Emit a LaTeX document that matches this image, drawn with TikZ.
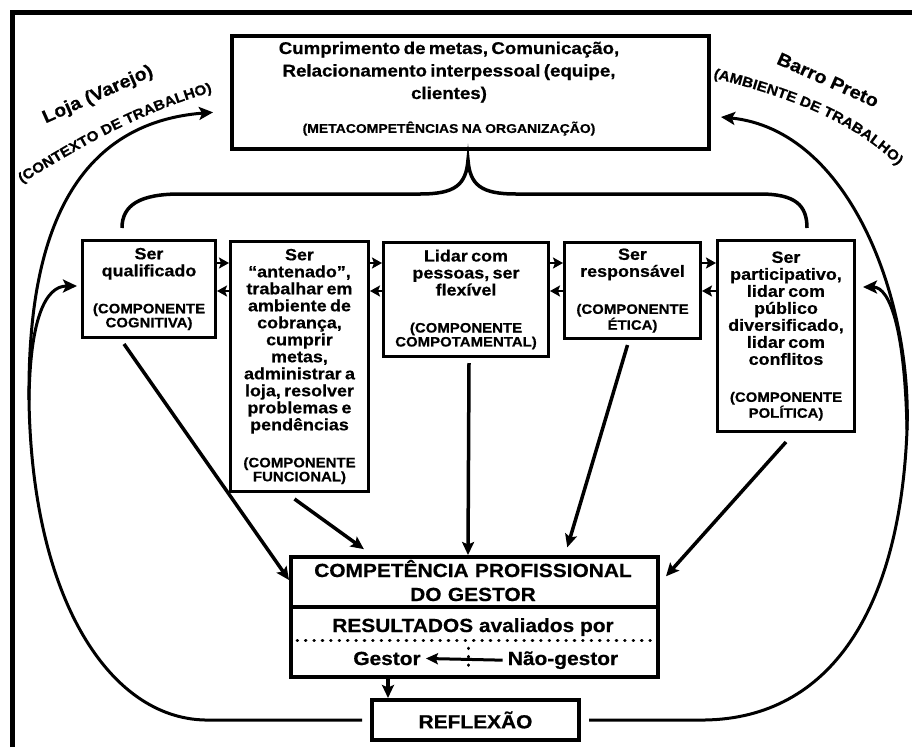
\documentclass[tikz,border=0pt]{standalone}
\usepackage{fontspec}
\setmainfont{Liberation Sans}[FakeStretch=1.1, BoldFeatures={FakeBold=0.6}]
\usetikzlibrary{arrows.meta,decorations.text}

\newcommand{\mainsz}{\fontsize{16.3}{17}\selectfont}
\newcommand{\compsz}{\fontsize{13.6}{14}\selectfont}
\newcommand{\boxtext}[2]{{\mainsz #1\par}\vspace{23pt}{\compsz #2\par}}

\begin{document}
\begin{tikzpicture}[x=1pt,y=-1pt,
  compbox/.style={draw, line width=3pt, align=center, anchor=north west, inner sep=3pt, font=\bfseries},
  heavybox/.style={draw, line width=4pt, anchor=north west, inner sep=0pt},
  lbl/.style={inner sep=0pt},
  looparr/.style={line width=3pt, -{Stealth[length=14pt,width=13pt,inset=3pt]}},
  downarr/.style={line width=3.5pt, -{Stealth[length=13pt,width=12pt,inset=2.5pt]}},
  stubarr/.style={line width=2.5pt, -{Stealth[length=10pt,width=11pt,inset=2pt]}},
  dots/.style={line width=3pt, line cap=round, dash pattern=on 0.6pt off 7.8pt}]

\fill[white] (0,0) rectangle (912,747);
\useasboundingbox (0,0) rectangle (912,747);

% frame
\draw[line width=5pt] (12.5,747) -- (12.5,12) -- (912,12);

% metacompetencias
\node[heavybox, minimum width=477pt, minimum height=113pt] (meta) at (230,34) {};
\node[lbl, align=center, anchor=base, text width=460pt, font=\bfseries] (metatxt) at (449,54)
  {{\fontsize{17}{22.5}\selectfont Cumprimento de metas, Comunicação,\\Relacionamento interpessoal (equipe,\\clientes)\par}\vspace{18pt}{\fontsize{12.7}{14}\selectfont (METACOMPETÊNCIAS NA ORGANIZAÇÃO)\par}};

% chave
\draw[line width=3.5pt] (122,228) .. controls (122,205) and (140,194) .. (180,194) -- (420,194)
  .. controls (455,194) and (466,185) .. (468,160) .. controls (470,185) and (481,194) .. (516,194)
  -- (760,194) .. controls (795,194) and (807,205) .. (807,228);

% componentes
\node[compbox, minimum width=133pt, minimum height=97pt, text width=127pt] (cog) at (81,239)
  {\boxtext{Ser\\qualificado}{(COMPONENTE\\COGNITIVA)}};
\node[compbox, minimum width=138pt, minimum height=250pt, text width=132pt] (fun) at (229,240)
  {\boxtext{Ser\\“antenado”,\\trabalhar em\\ambiente de\\cobrança,\\cumprir\\metas,\\administrar a\\loja, resolver\\problemas e\\pendências}{(COMPONENTE\\FUNCIONAL)}};
\node[compbox, minimum width=165pt, minimum height=114pt, text width=159pt] (com) at (382,241)
  {\boxtext{Lidar com\\pessoas, ser\\flexível}{(COMPONENTE\\COMPOTAMENTAL)}};
\node[compbox, minimum width=136pt, minimum height=96pt, text width=130pt] (eti) at (563,241)
  {\boxtext{Ser\\responsável}{(COMPONENTE\\ÉTICA)}};
\node[compbox, minimum width=137pt, minimum height=191pt, text width=131pt] (pol) at (716,239)
  {\boxtext{Ser\\participativo,\\lidar com\\público\\diversificado,\\lidar com\\conflitos}{(COMPONENTE\\POLÍTICA)}};

\draw[stubarr] (cog.east |- 0,263) -- (fun.west |- 0,263);
\draw[stubarr] (fun.west |- 0,291) -- (cog.east |- 0,291);
\draw[stubarr] (fun.east |- 0,263) -- (com.west |- 0,263);
\draw[stubarr] (com.west |- 0,291) -- (fun.east |- 0,291);
\draw[stubarr] (com.east |- 0,263) -- (eti.west |- 0,263);
\draw[stubarr] (eti.west |- 0,291) -- (com.east |- 0,291);
\draw[stubarr] (eti.east |- 0,263) -- (pol.west |- 0,263);
\draw[stubarr] (pol.west |- 0,291) -- (eti.east |- 0,291);

% competencia profissional
\node[heavybox, minimum width=367pt, minimum height=120pt] (comp) at (289,555) {};
\node[lbl, align=center, anchor=base, text width=360pt, font=\bfseries\fontsize{19}{24}\selectfont] (comptit) at (473,577)
  {COMPETÊNCIA PROFISSIONAL\\DO GESTOR};
\draw[line width=3.5pt] (comp.west |- 0,607) -- (comp.east |- 0,607);
\node[lbl, anchor=base, font=\bfseries\fontsize{19}{22}\selectfont] (res) at (473,632) {RESULTADOS avaliados por};
\draw[dots, shorten <=8pt, shorten >=4pt] (comp.west |- 0,640) -- (comp.east |- 0,640);
\node[anchor=base, inner sep=5pt, font=\bfseries\fontsize{19}{22}\selectfont] (gest) at (387,665) {Gestor};
\node[anchor=base, inner sep=5pt, font=\bfseries\fontsize{19}{22}\selectfont] (naog) at (563,665) {Não-gestor};
\draw[dots] (468,648) -- (468,671);
\draw[line width=3pt, -{Stealth[length=12pt,width=11pt,inset=2pt]}] (naog.west) -- (gest.east);

\draw[downarr] ([xshift=-25pt,yshift=-5pt]cog.south) -- (comp.west |- 0,580);
\draw[downarr, shorten >=10pt] ([xshift=-5pt,yshift=-6pt]fun.south) -- (comp.north -| 372,0);
\draw[downarr] ([xshift=3pt,yshift=-5pt]com.south) -- (comp.north -| 468,0);
\draw[downarr, shorten >=8pt] ([xshift=-5pt,yshift=-5pt]eti.south) -- (comp.north -| 565,0);
\draw[downarr, shorten >=9pt] ([yshift=-9pt]pol.south) -- (comp.east |- 0,583);

% reflexao
\node[draw, line width=4pt, anchor=north west, minimum width=207pt, minimum height=40pt,
  font=\bfseries\fontsize{19}{22}\selectfont] (refl) at (370,698) {REFLEXÃO};
\draw[downarr] (comp.south -| 388,0) -- (refl.north -| 388,0);

% contexto e ambiente
\coordinate (lsplit) at (29,400);
\coordinate (rsplit) at (907,430);
\draw[looparr, shorten <=8pt, shorten >=17pt] (refl.west) -- (refl.west -| 205,0)
  .. controls (110,718) and (32,600) .. (lsplit) .. controls (28,280) and (50,125) .. (meta.west |- 0,111);
\draw[looparr, shorten >=4pt] (lsplit) .. controls (30,320) and (45,286) .. (cog.west |- 0,286);
\draw[looparr, shorten <=8pt, shorten >=10pt] (refl.east) -- (refl.east -| 705,0)
  .. controls (830,718) and (900,610) .. (rsplit) .. controls (912,300) and (850,130) .. (meta.east |- 0,116);
\draw[looparr, shorten >=7pt] (rsplit) .. controls (905,330) and (890,287) .. (pol.east |- 0,287);

\node[lbl, rotate=24, font=\bfseries\fontsize{18}{18}\selectfont] (loja) at (98,95) {Loja (Varejo)};
\node[lbl, rotate=-24, font=\bfseries\fontsize{18}{18}\selectfont] (barro) at (828,80) {Barro Preto};
\path[decorate, decoration={text along path, text align=center,
  text={|\bfseries\fontsize{14}{14}\selectfont|(CONTEXTO DE TRABALHO)}}]
  (22,183) .. controls (60,160) and (130,115) .. (212,92);
\path[decorate, decoration={text along path, text align=center,
  text={|\bfseries\fontsize{14}{14}\selectfont|(AMBIENTE DE TRABALHO)}}]
  (714,78) .. controls (780,95) and (850,118) .. (897,165);

\end{tikzpicture}
\end{document}
